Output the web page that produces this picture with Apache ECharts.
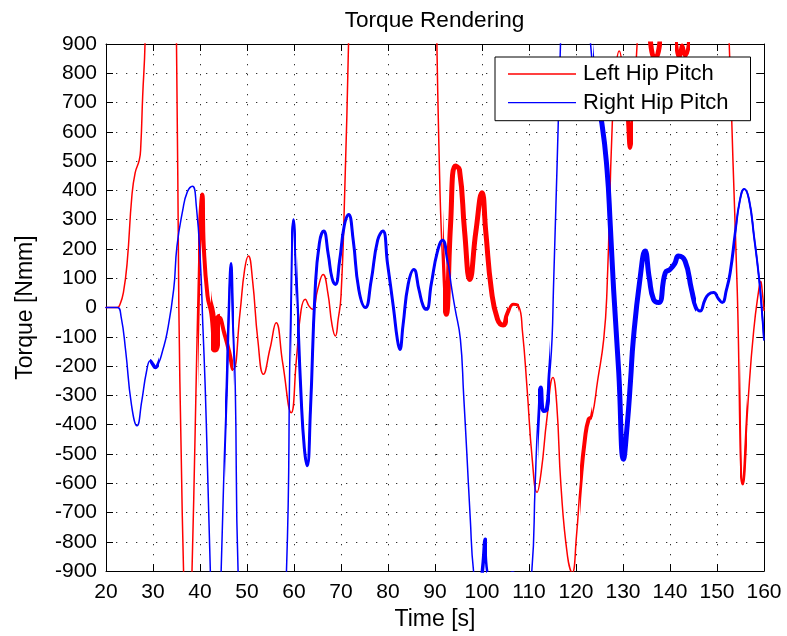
<!DOCTYPE html>
<html>
<head>
<meta charset="utf-8">
<script src="https://cdn.jsdelivr.net/npm/echarts@6/dist/echarts.min.js"></script>
<style>
  html, body { margin: 0; padding: 0; background: #fff; }
  #chart { width: 787px; height: 636px; }
</style>
</head>
<body>
<div id="chart"></div>
<script>
// Time [s] ticks and torque [Nmm] ticks
const timeTicks = [20, 30, 40, 50, 60, 70, 80, 90, 100, 110, 120, 130, 140, 150, 160];
const torqueTicks = [-900, -800, -700, -600, -500, -400, -300, -200, -100, 0, 100, 200, 300, 400, 500, 600, 700, 800, 900];

// Left hip pitch torque: [time s, torque Nmm]
const leftHipPitch = [
  [20, 0], [22.4, 0], [23.0, 12], [23.7, 51], [24.5, 153], [25.5, 380], [26.2, 460], [27.1, 505],
  [27.4, 551], [27.8, 721], [28.3, 900], [29, 1500], [31.6, 2300], [34.2, 1500], [35, 900],
  [35.5, 0], [36.0, -500], [36.5, -900], [37.4, -1400], [38.3, -900], [39.0, -400], [39.6, 60],
  [40.0, 280], [40.5, 386], [40.8, 210], [41.6, 40], [42.4, -20], [43.2, -140], [44.2, -35],
  [45.2, -90], [46.2, -150], [47.1, -211], [48.5, -20], [49.5, 130], [50.3, 176], [51.2, 90],
  [52.3, -110], [53.5, -228], [54.9, -140], [56.2, -52], [57.6, -190], [59.4, -359], [60.5, -180],
  [61.5, -10], [62.4, 28], [63.2, 5], [64, -6], [65, 60], [66.2, 113], [67.2, 50], [68.1, -60],
  [68.8, -97], [69.4, -40], [70, 39], [70.8, 400], [71.6, 900], [72.5, 1600], [81, 4200],
  [89.5, 1600], [90.4, 900], [90.8, 574], [91.5, 198], [92.4, -23], [93.3, 280], [94.3, 483],
  [95.2, 471], [96.3, 260], [97.4, 96], [98.7, 260], [100, 392], [100.8, 260], [102, 60],
  [103.3, -40], [104.5, -60], [105.5, -20], [106.7, 11], [107.8, 5], [108.6, -80], [109.6, -279],
  [110.7, -520], [111.7, -631], [112.6, -560], [113.8, -380], [115.1, -239], [115.9, -330],
  [116.8, -609], [118.2, -850], [119.2, -905], [120.1, -780], [120.9, -609], [121.9, -449],
  [122.7, -381], [123.4, -372], [124.6, -250], [125.9, -108], [126.6, 62], [127.7, 619],
  [128.5, 820], [129.2, 876], [130, 800], [130.9, 676], [131.5, 545], [132.2, 700], [133, 900],
  [134, 1300], [135.2, 1100], [135.9, 900], [136.8, 850], [137.8, 900], [139.5, 1200],
  [141.3, 900], [142, 855], [142.6, 895], [143.2, 860], [144, 900], [148, 1600], [152.0, 1100],
  [152.6, 900], [153.4, 500], [154.3, 62], [155.5, -603], [156.7, -300], [157.8, -80],
  [158.9, 62], [159.3, 90], [159.6, 60], [160, -10]
];

// Right hip pitch torque: [time s, torque Nmm]
const rightHipPitch = [
  [20, 0], [22.4, 0], [23.2, -30], [24.2, -150], [25.4, -330], [26.6, -404], [27.6, -320],
  [28.6, -220], [29.4, -182], [30.0, -195], [30.5, -205], [31.2, -190], [32, -150], [33, -86],
  [34.4, 62], [35.1, 210], [36.3, 330], [37.3, 395], [38.4, 414], [39.2, 350], [40.1, 150],
  [40.6, -60], [41.1, -268], [41.6, -550], [42.2, -900], [43.3, -1500], [44.5, -900],
  [45.2, -500], [45.7, -268], [46.1, -30], [46.6, 151], [47.0, -30], [47.5, -268], [48.1, -900],
  [53, -3000], [58.4, -900], [59.2, -100], [59.9, 301], [60.6, 50], [61.5, -300], [62.2, -480],
  [62.8, -540], [63.5, -350], [64.5, 60], [65.4, 220], [66.3, 261], [67.3, 180], [68.1, 100],
  [68.8, 79], [69.7, 160], [70.7, 280], [71.6, 318], [72.6, 230], [73.8, 60], [75.2, 0],
  [76.4, 90], [77.8, 230], [78.9, 261], [79.9, 150], [81.2, -6], [82.0, -110], [82.5, -143],
  [83.2, -60], [84.3, 80], [85.5, 130], [86.6, 60], [87.5, 5], [88.2, -6], [89.2, 80],
  [90.5, 190], [91.6, 230], [92.6, 170], [93.6, 60], [94.3, -6], [95.4, -108], [96.1, -300],
  [96.8, -506], [97.5, -720], [98.2, -900], [99.3, -1000], [100.2, -880], [100.7, -791],
  [101.2, -900], [103.5, -970], [106.5, -902], [108.7, -970], [110.6, -900], [111.3, -609],
  [111.9, -380], [112.5, -273], [113.1, -353], [113.8, -347], [114.4, -230], [114.9, -108],
  [115.2, 62], [116.0, 500], [116.7, 900], [117.5, 1300], [120, 1800], [122.3, 1200],
  [123.1, 900], [124.3, 720], [125.5, 630], [126.6, 471], [127.3, 280], [128, 62], [129.1, -222],
  [130.1, -518], [130.9, -400], [131.6, -250], [132.2, -108], [133.6, 96], [134.7, 193],
  [135.6, 100], [136.5, 28], [137.6, 17], [139, 119], [140, 130], [141, 150], [141.8, 176],
  [143.2, 159], [144.6, 60], [145.6, 0], [146.4, -12], [147.4, 25], [148.2, 45], [149.3, 51],
  [150.3, 30], [151.1, 17], [152, 60], [152.8, 119], [153.9, 255], [154.8, 360], [155.8, 405],
  [156.8, 370], [157.9, 240], [158.9, 107], [159.5, 0], [160, -110]
];

// Time spans where the controller chatter makes each trace dense
const leftDenseSpans = [[39.6, 42.4], [42.4, 44.2], [44.2, 47.1], [91.6, 105.5], [105.5, 107.8],
  [120.9, 123.4], [130.6, 132.2], [135.4, 138.2], [141.0, 144.2], [154.8, 156.3]];
const rightDenseSpans = [[29.4, 31.2], [45.4, 47.3], [59.4, 60.4], [60.6, 92.6], [99.6, 101.0],
  [111.9, 114.4], [123.6, 145.6], [145.6, 153.9], [153.9, 160]];

// stroke widths used for those spans
const leftDenseWidths = [4, 8, 4, 5, 3, 4, 4, 5, 4, 2.6];
const rightDenseWidths = [3.5, 2.5, 2.5, 3, 3.5, 4, 5, 3, 2];

const RED = '#ff0000';
const BLUE = '#0000ff';
const CLEAR = 'rgba(255,255,255,0)';
const FONT = "'Liberation Sans', Arial, Helvetica, sans-serif";

function lineSeries(name, data, color, width, z) {
  const s = {
    name: name,
    type: 'line',
    xAxisIndex: 0,
    yAxisIndex: 0,
    data: data,
    showSymbol: false,
    symbol: 'none',
    smooth: 0.5,
    clip: true,
    silent: true,
    z: z,
    lineStyle: { width: width, cap: 'round', join: 'round' }
  };
  if (color) {
    s.lineStyle.color = color;
    s.itemStyle = { color: color };
  }
  return s;
}

const series = [];
const visualMaps = [];

// one thin trace per joint, then a heavier copy per stroke width that is
// only coloured inside the dense spans (same data, so the curves coincide)
function addTrace(name, points, spans, widths, color, z) {
  series.push(lineSeries(name, points, color, 1.5, z));
  const levels = widths.filter(function (w, i) { return widths.indexOf(w) === i; });
  levels.forEach(function (w) {
    const pieces = [];
    spans.forEach(function (s, i) {
      if (widths[i] === w) pieces.push({ gte: s[0], lte: s[1], color: color });
    });
    visualMaps.push({
      type: 'piecewise',
      show: false,
      dimension: 0,
      seriesIndex: series.length,
      pieces: pieces,
      outOfRange: { color: CLEAR }
    });
    series.push(lineSeries(name + ' / ' + w, points, null, w, z));
  });
}

addTrace('Left Hip Pitch', leftHipPitch, leftDenseSpans, leftDenseWidths, RED, 2);
addTrace('Right Hip Pitch', rightHipPitch, rightDenseSpans, rightDenseWidths, BLUE, 3);

const gridDots = { color: '#333', width: 1, type: [1.3, 8.7] };

const chart = echarts.init(document.getElementById('chart'), null, { renderer: 'canvas' });
chart.setOption({
  animation: false,
  backgroundColor: '#fff',
  textStyle: { fontFamily: FONT, color: '#000' },
  title: {
    text: 'Torque Rendering',
    left: 429.5,
    textAlign: 'center',
    top: 4,
    textStyle: { fontFamily: FONT, fontSize: 22.6, fontWeight: 'normal', color: '#000' }
  },
  legend: {
    data: ['Left Hip Pitch', 'Right Hip Pitch'],
    orient: 'vertical',
    left: 495,
    top: 57,
    padding: [6, 22, 7, 13],
    itemGap: 6.7,
    itemWidth: 68,
    itemHeight: 1.3,
    icon: 'rect',
    itemStyle: { borderWidth: 0 },
    backgroundColor: '#fff',
    borderColor: '#000',
    borderWidth: 1,
    borderRadius: 0,
    selectedMode: false,
    textStyle: { fontFamily: FONT, fontSize: 22, lineHeight: 22, color: '#000', padding: [0, 0, 0, 2] }
  },
  visualMap: visualMaps,
  grid: { left: 106, right: 23, top: 44, bottom: 64, containLabel: false },
  xAxis: [
    {
      type: 'value', min: timeTicks[0], max: timeTicks[timeTicks.length - 1],
      interval: timeTicks[1] - timeTicks[0],
      name: 'Time [s]', nameLocation: 'middle', nameGap: 35,
      nameTextStyle: { fontFamily: FONT, fontSize: 23, color: '#000' },
      axisLine: { show: true, onZero: false, lineStyle: { color: '#000', width: 1 } },
      axisTick: { show: true, inside: true, length: 7, lineStyle: { color: '#000' } },
      axisLabel: { fontFamily: FONT, fontSize: 21, color: '#000', margin: 11 },
      splitLine: { show: true, lineStyle: gridDots }
    },
    {
      type: 'value', position: 'top', min: timeTicks[0], max: timeTicks[timeTicks.length - 1],
      interval: timeTicks[1] - timeTicks[0],
      axisLine: { show: true, onZero: false, lineStyle: { color: '#000', width: 1 } },
      axisTick: { show: true, inside: true, length: 7, lineStyle: { color: '#000' } },
      axisLabel: { show: false },
      splitLine: { show: false }
    }
  ],
  yAxis: [
    {
      type: 'value', min: torqueTicks[0], max: torqueTicks[torqueTicks.length - 1],
      interval: torqueTicks[1] - torqueTicks[0],
      name: 'Torque [Nmm]', nameLocation: 'middle', nameGap: 69, nameRotate: 90,
      nameTextStyle: { fontFamily: FONT, fontSize: 23, color: '#000' },
      axisLine: { show: true, onZero: false, lineStyle: { color: '#000', width: 1 } },
      axisTick: { show: true, inside: true, length: 7, lineStyle: { color: '#000' } },
      axisLabel: { fontFamily: FONT, fontSize: 21, color: '#000', margin: 9 },
      splitLine: { show: true, lineStyle: gridDots }
    },
    {
      type: 'value', position: 'right', min: torqueTicks[0], max: torqueTicks[torqueTicks.length - 1],
      interval: torqueTicks[1] - torqueTicks[0],
      axisLine: { show: true, onZero: false, lineStyle: { color: '#000', width: 1 } },
      axisTick: { show: true, inside: true, length: 7, lineStyle: { color: '#000' } },
      axisLabel: { show: false },
      splitLine: { show: false }
    }
  ],
  series: series
});
</script>
</body>
</html>
